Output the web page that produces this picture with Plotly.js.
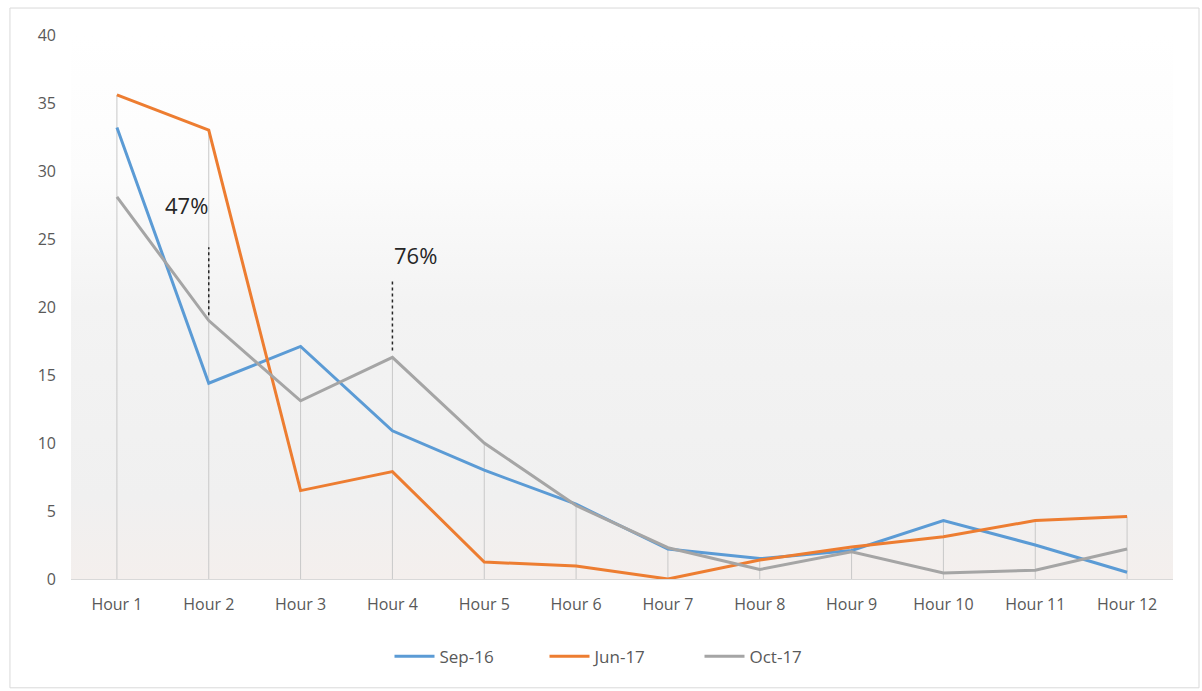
<!DOCTYPE html>
<html>
<head>
<meta charset="utf-8">
<script src="https://cdn.plot.ly/plotly-3.0.1.min.js"></script>
<style>
html,body{margin:0;padding:0;background:#fff;}
#chart{width:1202px;height:691px;}
</style>
</head>
<body>
<div id="chart"></div>
<script>
var categories = ["Hour 1","Hour 2","Hour 3","Hour 4","Hour 5","Hour 6","Hour 7","Hour 8","Hour 9","Hour 10","Hour 11","Hour 12"];
var sep16 = [33.2, 14.4, 17.1, 10.9, 8.0, 5.5, 2.2, 1.5, 2.1, 4.3, 2.5, 0.5];
var jun17 = [35.6, 33.0, 6.5, 7.9, 1.25, 0.95, 0.0, 1.4, 2.35, 3.1, 4.3, 4.6];
var oct17 = [28.1, 19.0, 13.1, 16.3, 10.0, 5.4, 2.3, 0.7, 2.0, 0.45, 0.65, 2.2];
var seriesNames = ["Sep-16","Jun-17","Oct-17"];
var yTicks = [0,5,10,15,20,25,30,35,40];
var notes = [{cat:"Hour 2", label:"47%", y0:19.4, y1:24.4, ty:27.5, shift:-22},
             {cat:"Hour 4", label:"76%", y0:16.8, y1:22.0, ty:23.8, shift:23}];

// drop lines from the highest value at each category down to the axis
var dx = [], dy = [];
categories.forEach(function(c,i){
  dx.push(c,c,null);
  dy.push(0, Math.max(sep16[i], jun17[i], oct17[i]), null);
});

var traces = [
  {x:dx, y:dy, mode:"lines", line:{color:"#c8c8c8", width:1}, showlegend:false, hoverinfo:"skip"},
  {x:categories, y:sep16, name:seriesNames[0], mode:"lines", line:{color:"#5b9bd5", width:3}},
  {x:categories, y:jun17, name:seriesNames[1], mode:"lines", line:{color:"#ed7d31", width:3}},
  {x:categories, y:oct17, name:seriesNames[2], mode:"lines", line:{color:"#a5a5a5", width:3}}
];

var gradSvg = '<svg xmlns="http://www.w3.org/2000/svg" width="100" height="100" preserveAspectRatio="none">' +
  '<defs><linearGradient id="g" x1="0" y1="0" x2="0" y2="1">' +
  '<stop offset="0" stop-color="#ffffff"/><stop offset="0.25" stop-color="#fcfcfc"/>' +
  '<stop offset="0.5" stop-color="#f3f3f3"/><stop offset="0.85" stop-color="#f0f0f0"/>' +
  '<stop offset="1" stop-color="#f4efed"/></linearGradient></defs>' +
  '<rect width="100" height="100" fill="url(#g)"/></svg>';
var gradUrl = "data:image/svg+xml;base64," + btoa(gradSvg);

var shapes = [
  {type:"rect", xref:"paper", yref:"paper", x0:-0.0554, x1:1.0236, y0:-0.200, y1:1.0496,
   line:{color:"#d9d9d9", width:1}, fillcolor:"rgba(0,0,0,0)", layer:"below"}
];
var annotations = [];
notes.forEach(function(n){
  shapes.push({type:"line", xref:"x", yref:"y", x0:n.cat, x1:n.cat, y0:n.y0, y1:n.y1,
    line:{color:"#262626", width:1.5, dash:"dot"}});
  annotations.push({x:n.cat, y:n.ty, xref:"x", yref:"y", text:n.label, showarrow:false,
    xshift:n.shift, font:{family:"Open Sans, sans-serif", size:22, color:"#262626"}});
});

var layout = {
  width:1202, height:691,
  margin:{l:71, r:29, t:35, b:112},
  paper_bgcolor:"#ffffff",
  plot_bgcolor:"rgba(0,0,0,0)",
  font:{family:"Open Sans, sans-serif", size:16, color:"#595959"},
  images:[{source:gradUrl, xref:"paper", yref:"paper", x:0, y:1, sizex:1, sizey:1,
           sizing:"stretch", layer:"below", xanchor:"left", yanchor:"top"}],
  xaxis:{type:"category", showgrid:false, zeroline:false, showline:true, linecolor:"#d9d9d9", linewidth:1,
         ticks:"", ticklabelstandoff:11, tickfont:{size:16, color:"#595959"}, range:[-0.5, 11.5], fixedrange:true},
  yaxis:{range:[0,40], tickvals:yTicks, showgrid:false, zeroline:false, showline:false, ticks:"",
         ticklabelstandoff:14, tickfont:{size:16, color:"#595959"}, fixedrange:true},
  legend:{orientation:"h", x:0.5, xanchor:"center", y:-0.143, yanchor:"middle",
          font:{size:17, color:"#595959"}, traceorder:"normal", itemwidth:40,
          entrywidth:100, entrywidthmode:"pixels"},
  shapes:shapes,
  annotations:annotations,
  showlegend:true
};
Plotly.newPlot("chart", traces, layout, {displayModeBar:false, staticPlot:true});
</script>
</body>
</html>
